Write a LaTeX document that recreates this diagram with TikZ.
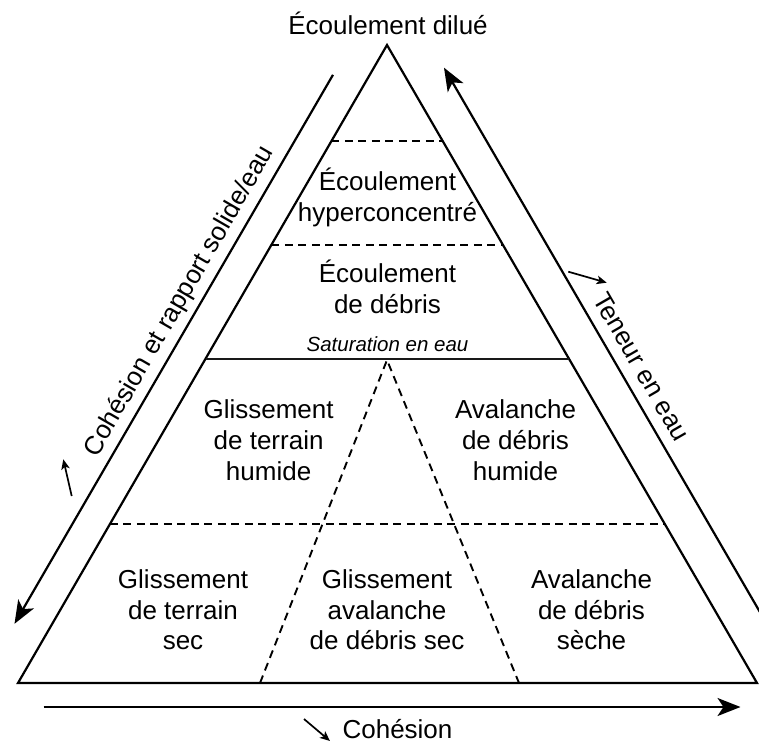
\documentclass[tikz,border=0pt]{standalone}
\usepackage{fontspec}
\setmainfont{Liberation Sans}
\usetikzlibrary{arrows.meta,calc}
\newcommand\lbl[1]{\begin{tabular}[t]{@{}c@{}}#1\end{tabular}}
\begin{document}
\begin{tikzpicture}[x=1pt,y=-1pt,
  edge/.style={line width=2.2pt, line join=miter},
  sep/.style={line width=1.9pt, dash pattern=on 8pt off 5.5pt},
  satline/.style={line width=2pt, black!90},
  bigarrow/.style={line width=2.2pt, -{Stealth[length=23pt,width=18pt,inset=6pt]}},
  tinyarrow/.style={line width=1.7pt, -{Stealth[length=10pt,width=8.5pt,inset=2.5pt]}},
  txt/.style={font=\fontsize{26}{30.8}\selectfont, inner sep=0pt, anchor=base},
  small/.style={font=\fontsize{20.5}{24}\selectfont\itshape, inner sep=0pt, anchor=base}]
\useasboundingbox (0,0) rectangle (759,742);
% triangle
\coordinate (A) at (387,45);
\coordinate (L) at (18,683);
\coordinate (R) at (757,683);
\draw[edge] (A) -- (L) -- (R) -- cycle;
% separators
\draw[sep] ($(A)!0.1505!(L)$) -- ($(A)!0.1505!(R)$);
\draw[sep] ($(A)!0.3135!(L)$) -- ($(A)!0.3135!(R)$);
\draw[satline] ($(A)!0.4917!(L)$) -- ($(A)!0.4917!(R)$);
\draw[sep] ($(A)!0.7508!(L)$) -- ($(A)!0.7508!(R)$);
\coordinate (S) at (387,360);
\coordinate (B1) at (260,683);
\coordinate (B2) at (519,683);
\draw[sep] (B1) -- (S) -- (B2);
% outer arrows
\coordinate (LA1) at (333,74.8);
\coordinate (LA2) at (14.5,623.8);
\coordinate (RA1) at (444,67.7);
\coordinate (RA2) at (765,620.8);
\coordinate (BA1) at (43.5,707);
\coordinate (BA2) at (740.5,707);
\draw[bigarrow] (LA1) -- (LA2);
\draw[bigarrow] (RA2) -- (RA1);
\draw[bigarrow] (BA1) -- (BA2);
% small arrows
\coordinate (la) at (71.7,496); \coordinate (lb) at (63.3,459.3);
\coordinate (ra) at (568.3,271.7); \coordinate (rb) at (606.7,282.7);
\coordinate (ba) at (304,719); \coordinate (bb) at (330,741);
\draw[tinyarrow] (la) -- (lb);
\draw[tinyarrow] (ra) -- (rb);
\draw[tinyarrow] (ba) -- (bb);
% labels
\node[txt] (top) at (388,34) {Écoulement dilué};
\node[txt] (hyp) at (387.5,190.7) {\lbl{Écoulement\\hyperconcentré}};
\node[txt] (deb) at (387.5,282.5) {\lbl{Écoulement\\de débris}};
\node[small] (sat) at (387.5,351) {Saturation en eau};
\node[txt] (gth) at (268.6,418.8) {\lbl{Glissement\\de terrain\\humide}};
\node[txt] (adh) at (515.5,418.8) {\lbl{Avalanche\\de débris\\humide}};
\node[txt] (gts) at (183,588.3) {\lbl{Glissement\\de terrain\\sec}};
\node[txt] (gad) at (387,588.3) {\lbl{Glissement\\avalanche\\de débris sec}};
\node[txt] (ads) at (591.5,588.3) {\lbl{Avalanche\\de débris\\sèche}};
\node[txt] (coh) at (397.5,738) {Cohésion};
\node[txt, rotate=60] (lcoh) at (185.6,304.9) {Cohésion et rapport solide/eau};
\node[txt, rotate=-60] (ten) at (634,371.1) {Teneur en eau};
\end{tikzpicture}
\end{document}
